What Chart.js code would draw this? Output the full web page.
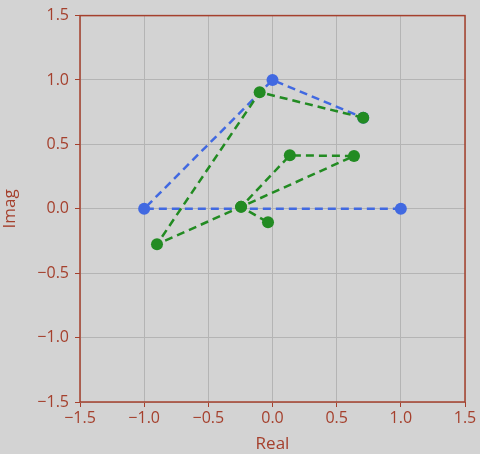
<!DOCTYPE html>
<html>
<head>
<meta charset="utf-8">
<script src="https://cdn.jsdelivr.net/npm/chart.js@4"></script>
<style>
  html, body { margin: 0; padding: 0; background: #d3d3d3; }
  #wrap { width: 480px; height: 454px; }
</style>
</head>
<body>
<div id="wrap"><canvas id="plot"></canvas></div>
<script>
// Points in the complex plane (real, imag)
const blueReal = [1, -1, 0, 0.707];
const blueImag = [0, 0, 1, 0.707];
const greenReal = [0.707, -0.1, -0.9, -0.245, 0.635, 0.135, -0.245, -0.035];
const greenImag = [0.707, 0.905, -0.275, 0.015, 0.41, 0.415, 0.015, -0.105];
const tickValues = [-1.5, -1.0, -0.5, 0.0, 0.5, 1.0, 1.5];

const axisColor = "#a5402d";
const fontFamily = "'Open Sans', 'Noto Sans', sans-serif";

function toPoints(xs, ys) {
  return xs.map((x, i) => ({ x: x, y: ys[i] }));
}

function fmt(v) {
  let s = Number(v).toFixed(1);
  return s.replace("-", "\u2212");
}

// Fill background and draw the full frame around the plot
const framePlugin = {
  id: "frame",
  beforeDraw(chart) {
    const c = chart.ctx;
    c.save();
    c.fillStyle = "#d3d3d3";
    c.fillRect(0, 0, chart.width, chart.height);
    c.restore();
  },
  afterDatasetsDraw(chart) {
    const a = chart.chartArea;
    const c = chart.ctx;
    c.save();
    c.strokeStyle = axisColor;
    c.lineWidth = 1.5;
    c.strokeRect(a.left, a.top, a.right - a.left, a.bottom - a.top);
    c.restore();
  }
};

function axis(title, isX) {
  return {
    type: "linear",
    min: -1.5,
    max: 1.5,
    afterBuildTicks: s => { s.ticks = tickValues.map(v => ({ value: v })); },
    afterFit: s => { if (isX) s.height = 52; else s.width = 80; },
    border: { display: false },
    grid: {
      color: "#b4b4b4",
      lineWidth: 1,
      drawTicks: true,
      tickLength: 5,
      tickColor: axisColor
    },
    ticks: {
      color: axisColor,
      font: { family: fontFamily, size: 16 },
      padding: isX ? 2 : 6,
      callback: v => fmt(v)
    },
    title: {
      display: true,
      text: title,
      color: axisColor,
      font: { family: fontFamily, size: 17 },
      padding: isX ? { top: 0, bottom: 0 } : { top: 0, bottom: 4 }
    }
  };
}

new Chart(document.getElementById("plot").getContext("2d"), {
  type: "scatter",
  data: {
    datasets: [
      {
        data: toPoints(blueReal, blueImag),
        order: 1,
        showLine: true,
        borderColor: "#4169e1",
        backgroundColor: "#4169e1",
        borderWidth: 2.5,
        borderDash: [8, 5],
        pointRadius: 6,
        pointHoverRadius: 6,
        pointBorderWidth: 0
      },
      {
        data: toPoints(greenReal, greenImag),
        order: 0,
        showLine: true,
        borderColor: "#228b22",
        backgroundColor: "#228b22",
        borderWidth: 2.5,
        borderDash: [8, 5],
        pointRadius: 6,
        pointHoverRadius: 6,
        pointBorderWidth: 0
      }
    ]
  },
  options: {
    responsive: true,
    maintainAspectRatio: false,
    animation: false,
    layout: { padding: { top: 15, right: 15, left: 0, bottom: 0 } },
    plugins: { legend: { display: false }, tooltip: { enabled: false } },
    scales: {
      x: axis("Real", true),
      y: axis("Imag", false)
    }
  },
  plugins: [framePlugin]
});
</script>
</body>
</html>
